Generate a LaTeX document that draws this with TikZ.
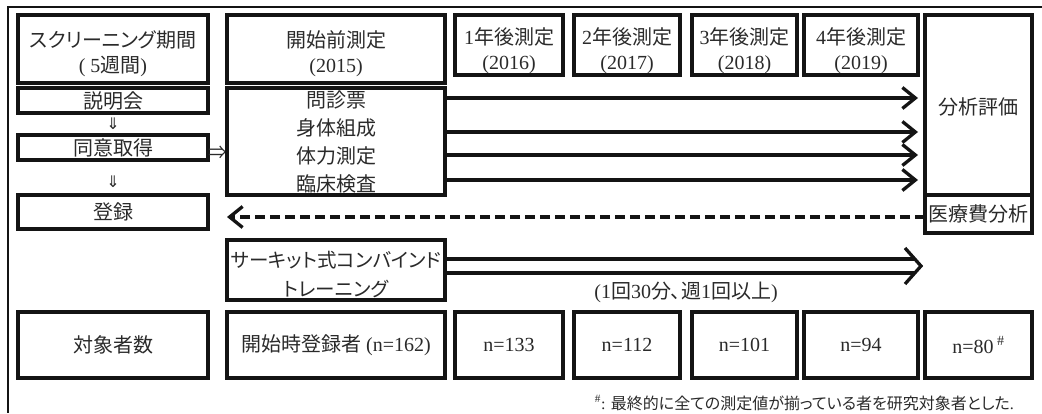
\documentclass[tikz,border=0pt]{standalone}
\usepackage{fontspec}
\setmainfont{Liberation Serif}
\newfontfamily\jp{Noto Sans CJK JP}
\newfontfamily\jpp[RawFeature=+palt]{Noto Sans CJK JP}
\newfontfamily\djv{DejaVu Sans}
\usetikzlibrary{arrows.meta}
\definecolor{ln}{HTML}{141414}
\definecolor{tx}{HTML}{2A2A2A}
\newcommand\fsA{\fontsize{20}{25}\selectfont}
\newcommand\fsB{\fontsize{20}{28}\selectfont}
\newcommand\bxnode[7][]{%
  \node[bx, minimum width={(#5-#3)*1pt}, minimum height={(#6-#4)*1pt}] (#2) at ({(#3+#5)/2},{(#4+#6)/2}) {};
  \node[bxt, #1] (#2-t) at (#2.center) {#7};}
\tikzset{
  bx/.style={draw=ln, line width=3.3pt, inner sep=0pt, outer sep=0pt},
  bxt/.style={inner sep=0pt, align=center, font=\fsA, text=tx},
  arr/.style={draw=ln, line width=3.3pt, -{Straight Barb[length=13pt,width=21pt]}},
  sym/.style={inner sep=0pt, text=tx},
  dbl/.style={draw=ln, line width=3.3pt},
}
\begin{document}
\begin{tikzpicture}[x=1pt,y=-1pt]
\useasboundingbox (0,0) rectangle (1042,413);
% outer frame
\draw[ln, line width=2pt] (1042,7) -- (8,7) -- (8,413);
% header row
\bxnode[yshift=-5pt]{scr}{18}{15}{208}{83}{{\jpp スクリーニング期間}\\( 5{\jp 週間})}
\bxnode[yshift=-5pt]{pre}{227}{15}{445}{83}{{\jp 開始前測定}\\(2015)}
\bxnode[yshift=-6pt]{ya}{455}{15}{563}{75}{1{\jp 年後測定}\\(2016)}
\bxnode[yshift=-6pt]{yb}{574}{15}{680}{75}{2{\jp 年後測定}\\(2017)}
\bxnode[yshift=-6pt]{yc}{692}{15}{797}{75}{3{\jp 年後測定}\\(2018)}
\bxnode[yshift=-6pt]{yd}{804}{15}{918}{75}{4{\jp 年後測定}\\(2019)}
\bxnode[yshift=-2pt]{ana}{925}{15}{1032}{195}{\jp 分析評価}
% left column
\bxnode{expl}{18}{88}{208}{113}{\jp 説明会}
\bxnode{cons}{18}{135}{208}{160}{\jp 同意取得}
\bxnode{regi}{18}{195}{208}{229}{\jp 登録}
\node[sym, font=\djv\fontsize{16}{16}\selectfont] (d1) at (113,124) {⇓};
\node[sym, font=\djv\fontsize{16}{16}\selectfont] (d2) at (113,182) {⇓};
\node[sym, font=\jp\fontsize{19}{19}\selectfont] (r1) at (218,153) {⇒};
% measurement box
\bxnode[font=\fsB]{meas}{227}{88}{445}{195}{{\jp 問診票}\\{\jp 身体組成}\\{\jp 体力測定}\\{\jp 臨床検査}}
\bxnode{medi}{925}{195}{1032}{233}{\jp 医療費分析}
% arrows to analysis
\coordinate (ya1) at (0,98);
\coordinate (ya2) at (0,132);
\coordinate (ya3) at (0,155);
\coordinate (ya4) at (0,180);
\foreach \c in {ya1,ya2,ya3,ya4}{
  \draw[arr, shorten >=7pt] (meas.east |- \c) -- (ana.west |- \c);
}
% dashed feedback
\coordinate (yd0) at (0,217);
\draw[arr, dash pattern=on 10pt off 5pt, shorten >=19pt] (medi.west |- yd0) -- (regi.east |- yd0);
% training
\bxnode[font=\fontsize{19.5}{29}\selectfont, yshift=-5pt]{trai}{227}{240}{445}{300}{{\jpp サーキット式コンバインド}\\{\jpp トレーニング}}
\coordinate (dtip) at (921,266);
\coordinate (dtop) at (0,259);
\coordinate (dbot) at (0,273);
\draw[dbl] (trai.east |- dtop) -- ([xshift=-6pt]dtip |- dtop);
\draw[dbl] (trai.east |- dbot) -- ([xshift=-6pt]dtip |- dbot);
\draw[dbl, line join=miter] ([shift={(-16,-18)}]dtip) -- (dtip) -- ([shift={(-16,18)}]dtip);
\node[sym, font=\fsA] (freq) at (686,292) {(1{\jpp 回}30{\jpp 分、週}1{\jpp 回以上})};
% counts row
\bxnode{cnt}{18}{312}{208}{378}{\jp 対象者数}
\bxnode{n0}{227}{312}{445}{378}{{\jp 開始時登録者} (n=162)}
\bxnode{n1}{455}{312}{563}{378}{n=133}
\bxnode{n2}{574}{312}{680}{378}{n=112}
\bxnode{n3}{692}{312}{797}{378}{n=101}
\bxnode{n4}{804}{312}{918}{378}{n=94}
\bxnode{n5}{925}{312}{1032}{378}{n=80\,\textsuperscript{\#}}
% footnote
\node[sym, anchor=east, font=\fontsize{16}{16}\selectfont] (note) at (1014,403) {\textsuperscript{\#}: {\jpp 最終的に全ての測定値が揃っている者を研究対象者とした}.};
\end{tikzpicture}
\end{document}
